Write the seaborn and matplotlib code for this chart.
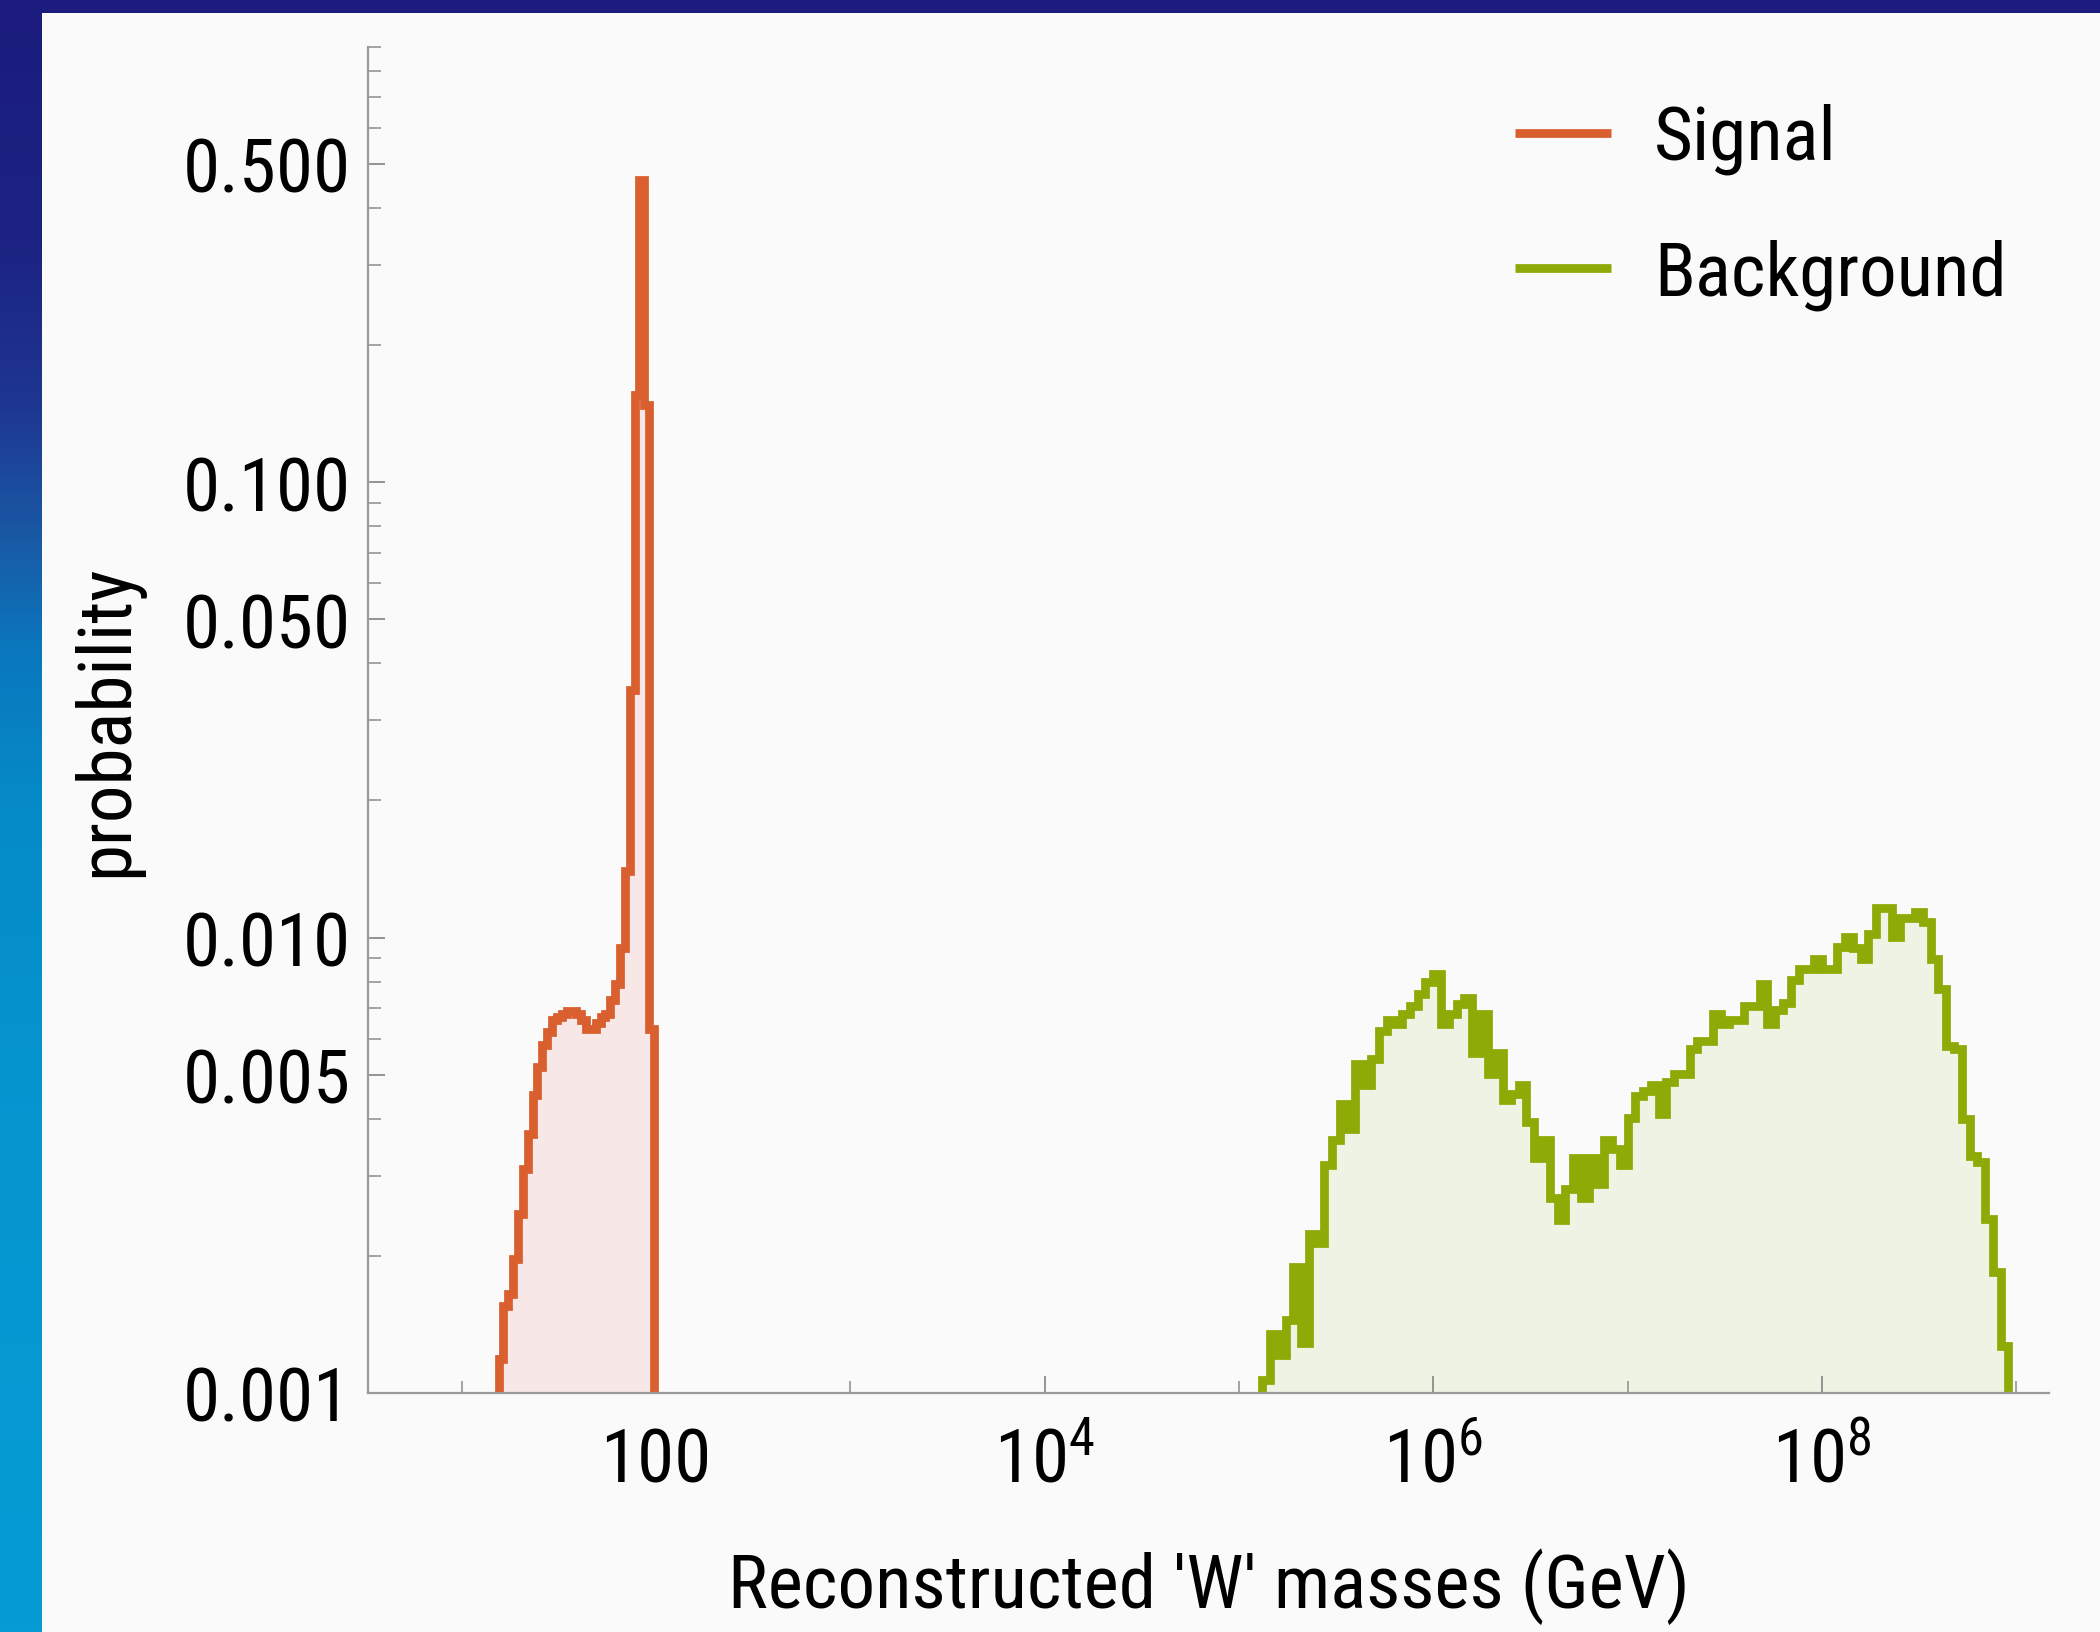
import numpy as np
import pandas as pd
import matplotlib
matplotlib.use("Agg")
import matplotlib.pyplot as plt
from matplotlib import font_manager
from matplotlib.lines import Line2D
from matplotlib.patches import Rectangle
from matplotlib.ticker import FixedLocator, NullFormatter
import seaborn as sns

# ---------------- data ----------------
SIG_LOG_START = 1.19      # log10(GeV) of first signal bin edge
SIG_LOG_WIDTH = 0.025     # log10 bin width
signal_prob = [0.00119, 0.00155, 0.00165, 0.00197, 0.00247, 0.0031, 0.0037, 0.0045,
               0.0052, 0.0058, 0.0062, 0.0066, 0.0067, 0.0068, 0.0069, 0.0069,
               0.0068, 0.0066, 0.0063, 0.0063, 0.0065, 0.0067, 0.0068, 0.0073,
               0.0079, 0.0095, 0.0140, 0.035, 0.155, 0.46, 0.148, 0.0063]

BKG_LOG_START = 5.12
BKG_LOG_WIDTH = 0.04
background_prob = [0.00107, 0.00135, 0.00121, 0.00145, 0.00189, 0.00129, 0.00223, 0.00214,
                   0.00316, 0.00359, 0.00430, 0.00379, 0.00527, 0.00474, 0.00540, 0.00622,
                   0.00658, 0.00645, 0.00678, 0.00709, 0.00750, 0.00800, 0.00830, 0.00645,
                   0.00681, 0.00713, 0.00735, 0.00557, 0.00681, 0.00501, 0.00557, 0.00439,
                   0.00453, 0.00474, 0.00393, 0.00328, 0.00359, 0.00268, 0.00240, 0.00280,
                   0.00328, 0.00268, 0.00328, 0.00287, 0.00359, 0.00343, 0.00316, 0.00401,
                   0.00448, 0.00460, 0.00474, 0.00409, 0.00481, 0.00501, 0.00501, 0.00568,
                   0.00594, 0.00594, 0.00681, 0.00645, 0.00658, 0.00658, 0.00709, 0.00709,
                   0.00789, 0.00645, 0.00695, 0.00720, 0.00805, 0.00851, 0.00851, 0.00899,
                   0.00851, 0.00851, 0.00951, 0.01005, 0.00950, 0.00899, 0.01020, 0.01163,
                   0.01163, 0.01005, 0.01101, 0.01101, 0.01140, 0.01079, 0.00895, 0.00769,
                   0.00577, 0.00568, 0.00399, 0.00331, 0.00321, 0.00241, 0.00184, 0.00127]

series_labels = ["Signal", "Background"]
x_major_ticks = [1e2, 1e4, 1e6, 1e8]
x_major_labels = ["100", r"$\mathregular{10^{4}}$", r"$\mathregular{10^{6}}$", r"$\mathregular{10^{8}}$"]
x_minor_ticks = [1e1, 1e3, 1e5, 1e7, 1e9]
y_major_ticks = [0.001, 0.005, 0.01, 0.05, 0.1, 0.5]
y_major_labels = ["0.001", "0.005", "0.010", "0.050", "0.100", "0.500"]
y_minor_ticks = [k * 10.0 ** e for e in (-3, -2, -1) for k in (2, 3, 4, 6, 7, 8, 9)]
x_label = "Reconstructed 'W' masses (GeV)"
y_label = "probability"

# ---------------- style ----------------
SIG_LINE, SIG_FILL = "#D95F2F", "#F7E7E7"
BKG_LINE, BKG_FILL = "#8DAA06", "#EDF4E4"
LW = 6.3

names = {f.name for f in font_manager.fontManager.ttflist}
if "Roboto Condensed" in names:
    FAM, FS = "Roboto Condensed", 54
elif "Liberation Sans Narrow" in names:
    FAM, FS = "Liberation Sans Narrow", 55
else:
    FAM, FS = "Roboto", 48
plt.rcParams["font.family"] = [FAM, "DejaVu Sans"]

W, H, DPI = 2100, 1633, 100
fig = plt.figure(figsize=(W / DPI, H / DPI), dpi=DPI)

# slide-like background: blue gradient with an off-white panel
bg = fig.add_axes([0, 0, 1, 1])
bg.set_axis_off()
stops = np.array([0.0, 0.15, 0.25, 0.33, 0.40, 0.50, 0.70, 1.0])
rgb = np.array([[27, 28, 125], [28, 35, 130], [30, 55, 145], [25, 90, 165],
                [10, 120, 190], [5, 140, 200], [5, 150, 208], [5, 155, 212]]) / 255.0
tt = np.linspace(0, 1, 400)
grad = np.stack([np.interp(tt, stops, rgb[:, c]) for c in range(3)], axis=-1)[:, None, :]
bg.imshow(grad, aspect="auto", extent=[0, 1, 0, 1], origin="upper")
bg.add_patch(Rectangle((41.5 / W, 0), 1, 1 - 13.5 / H, transform=bg.transAxes,
                       facecolor="#FAFAFA", edgecolor="none"))
bg.set_xlim(0, 1)
bg.set_ylim(0, 1)

ax = fig.add_axes([368 / W, 1 - 1394 / H, (2049 - 368) / W, (1394 - 48) / H])
ax.set_facecolor("none")

Y_FLOOR = 1e-4   # below the visible range: outline drops to the axis


def draw_hist(log_start, log_width, probs, line_color, fill_color):
    edges = log_start + log_width * np.arange(len(probs) + 1)
    df = pd.DataFrame({"mass": 10 ** ((edges[:-1] + edges[1:]) / 2),
                       "prob": np.asarray(probs, dtype=float)})
    # filled area
    sns.histplot(data=df, x="mass", weights="prob", bins=list(edges), log_scale=True,
                 element="step", fill=True, facecolor=fill_color, edgecolor="none",
                 linewidth=0, ax=ax)
    # outline (step line falling to the axis at both ends)
    outline = pd.DataFrame({
        "mass": np.repeat(10 ** edges, 2),
        "prob": np.concatenate([[Y_FLOOR], np.repeat(np.asarray(probs, float), 2), [Y_FLOOR]]),
    })
    sns.lineplot(data=outline, x="mass", y="prob", sort=False, estimator=None,
                 color=line_color, linewidth=LW, ax=ax,
                 solid_joinstyle="miter", solid_capstyle="butt")


draw_hist(SIG_LOG_START, SIG_LOG_WIDTH, signal_prob, SIG_LINE, SIG_FILL)
draw_hist(BKG_LOG_START, BKG_LOG_WIDTH, background_prob, BKG_LINE, BKG_FILL)

ax.set_yscale("log")
ax.set_xlim(10 ** 0.518, 10 ** 9.169)
ax.set_ylim(0.001, 0.902)

for s in ("top", "right"):
    ax.spines[s].set_visible(False)
for s in ("left", "bottom"):
    ax.spines[s].set_color("#9a9a9a")
    ax.spines[s].set_linewidth(1.6)
    ax.spines[s].set_zorder(3)

ax.set_xticks(x_major_ticks, labels=x_major_labels)
ax.xaxis.set_minor_locator(FixedLocator(x_minor_ticks))
ax.xaxis.set_minor_formatter(NullFormatter())
ax.set_yticks(y_major_ticks, labels=y_major_labels)
ax.yaxis.set_minor_locator(FixedLocator(y_minor_ticks))
ax.yaxis.set_minor_formatter(NullFormatter())

ax.tick_params(which="both", direction="in", color="#8c8c8c", labelsize=FS, labelcolor="black")
ax.tick_params(which="major", length=12, width=1.3)
ax.tick_params(which="minor", length=9, width=1.1)
ax.tick_params(axis="y", pad=12)
ax.tick_params(axis="x", pad=64)
for t in ax.get_xticklabels():
    t.set_va("baseline")

ax.set_xlabel(x_label, fontsize=FS)
ax.xaxis.set_label_coords(0.5, -0.115)
ax.set_ylabel(y_label, fontsize=FS)
ax.yaxis.set_label_coords(-0.134, 0.5)

handles = [Line2D([], [], color=SIG_LINE, lw=6.3, solid_capstyle="butt"),
           Line2D([], [], color=BKG_LINE, lw=6.3, solid_capstyle="butt")]
fig.legend(handles, series_labels, loc="upper left", bbox_to_anchor=(1515 / W, 1 - 104 / H),
           frameon=False, fontsize=FS, handlelength=1.28, handletextpad=0.57,
           labelspacing=0.85, borderpad=0, borderaxespad=0)

fig.savefig("out.png", dpi=DPI)
